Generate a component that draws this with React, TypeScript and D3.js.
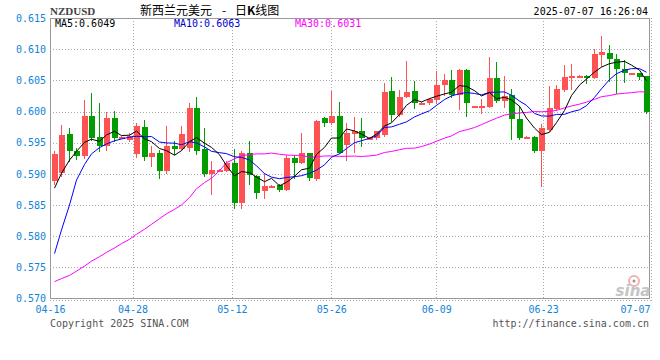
import * as d3 from "d3";
import { useEffect, useRef } from "react";
import * as React from "react";

// daily candles, 04-16 .. 07-07
const opens = [
  0.5889, 0.5901, 0.5964, 0.5937, 0.5928, 0.5993, 0.5959, 0.5944, 0.5989, 0.5958,
  0.5955, 0.5932, 0.5975, 0.5927, 0.5934, 0.5905, 0.5945, 0.5940, 0.5941, 0.6006,
  0.5940, 0.5899, 0.5905, 0.5905, 0.5918, 0.5854, 0.5934, 0.5897, 0.5872, 0.5880,
  0.5882, 0.5874, 0.5926, 0.5918, 0.5934, 0.5892, 0.5990, 0.5981, 0.5993, 0.5946,
  0.5964, 0.5969, 0.5957, 0.5957, 0.5962, 0.6033, 0.5994, 0.6024, 0.6033, 0.6013,
  0.6013, 0.6019, 0.6043, 0.6051, 0.6027, 0.6067, 0.6008, 0.6008, 0.6008, 0.6054,
  0.6017, 0.6027, 0.5988, 0.5958, 0.5959, 0.5937, 0.5970, 0.6004, 0.6034, 0.6056,
  0.6056, 0.6057, 0.6054, 0.6091, 0.6094, 0.6085, 0.6068, 0.6061, 0.6061, 0.6057,
];
const highs = [
  0.5937, 0.5978, 0.5973, 0.5941, 0.6019, 0.6030, 0.6013, 0.6000, 0.6001, 0.5961,
  0.5965, 0.5982, 0.5986, 0.5944, 0.5938, 0.5977, 0.5952, 0.5977, 0.6014, 0.6024,
  0.5973, 0.5920, 0.5907, 0.5920, 0.5940, 0.5936, 0.5953, 0.5898, 0.5902, 0.5882,
  0.5884, 0.5931, 0.5931, 0.5966, 0.5934, 0.5986, 0.5991, 0.6033, 0.6016, 0.5981,
  0.5991, 0.5989, 0.5959, 0.5969, 0.6045, 0.6056, 0.6035, 0.6081, 0.6049, 0.6015,
  0.6021, 0.6065, 0.6060, 0.6067, 0.6068, 0.6068, 0.6009, 0.6020, 0.6088, 0.6080,
  0.6057, 0.6036, 0.6009, 0.5960, 0.5960, 0.5980, 0.6041, 0.6043, 0.6075, 0.6077,
  0.6058, 0.6058, 0.6100, 0.6121, 0.6107, 0.6092, 0.6083, 0.6062, 0.6062, 0.6057,
];
const lows = [
  0.5884, 0.5896, 0.5921, 0.5924, 0.5926, 0.5954, 0.5936, 0.5938, 0.5952, 0.5957,
  0.5952, 0.5927, 0.5922, 0.5913, 0.5893, 0.5902, 0.5932, 0.5938, 0.5937, 0.5932,
  0.5896, 0.5867, 0.5904, 0.5904, 0.5845, 0.5845, 0.5883, 0.5861, 0.5861, 0.5879,
  0.5873, 0.5874, 0.5893, 0.5917, 0.5890, 0.5890, 0.5976, 0.5980, 0.5933, 0.5922,
  0.5935, 0.5945, 0.5956, 0.5956, 0.5961, 0.5985, 0.5992, 0.6023, 0.6005, 0.6012,
  0.6012, 0.6013, 0.6027, 0.6023, 0.6004, 0.5993, 0.6007, 0.5998, 0.6007, 0.6016,
  0.6008, 0.5956, 0.5956, 0.5957, 0.5935, 0.5881, 0.5969, 0.6002, 0.6033, 0.6036,
  0.6055, 0.6045, 0.6053, 0.6073, 0.6049, 0.6029, 0.6047, 0.6060, 0.6052, 0.5998,
];
const closes = [
  0.5932, 0.5962, 0.5937, 0.5928, 0.5993, 0.5958, 0.5944, 0.5989, 0.5957, 0.5959,
  0.5961, 0.5977, 0.5927, 0.5934, 0.5904, 0.5944, 0.5940, 0.5964, 0.6006, 0.5937,
  0.5899, 0.5906, 0.5906, 0.5918, 0.5854, 0.5934, 0.5898, 0.5870, 0.5881, 0.5881,
  0.5874, 0.5926, 0.5918, 0.5934, 0.5893, 0.5985, 0.5982, 0.5993, 0.5934, 0.5966,
  0.5969, 0.5957, 0.5958, 0.5968, 0.6032, 0.5994, 0.6024, 0.6032, 0.6013, 0.6014,
  0.6020, 0.6043, 0.6051, 0.6027, 0.6067, 0.6013, 0.6009, 0.6009, 0.6054, 0.6017,
  0.6025, 0.5988, 0.5958, 0.5959, 0.5937, 0.5973, 0.6006, 0.6036, 0.6056, 0.6057,
  0.6057, 0.6054, 0.6092, 0.6096, 0.6085, 0.6068, 0.6061, 0.6062, 0.6056, 0.5999,
];

// MA values for the first days, whose window reaches before the chart
const ma5Head = [0.5877, 0.5901, 0.5922, 0.5936];
const ma10Head = [0.5772, 0.5810, 0.5850, 0.5890, 0.5915, 0.5932, 0.5942, 0.5948, 0.5953];
const ma30Head = [
  0.5727, 0.5732, 0.5737, 0.5744, 0.5752, 0.5760, 0.5767, 0.5774, 0.5781, 0.5788,
  0.5795, 0.5803, 0.5811, 0.5819, 0.5828, 0.5836, 0.5843, 0.5850, 0.5862, 0.5876,
  0.5886, 0.5893, 0.5905, 0.5918, 0.5924, 0.5929, 0.5931, 0.5932, 0.5932,
];

const dateLabels = ["04-16", "04-28", "05-12", "05-26", "06-09", "06-23", "07-07"];
const dateSlots = [0, 11, 24.25, 37.5, 51.5, 65.75, 80];
const priceTicks = [0.57, 0.575, 0.58, 0.585, 0.59, 0.595, 0.6, 0.605, 0.61, 0.615];

const movingAvg = (n: number, head: number[]) =>
  closes.map((_, i) => (i < n - 1 ? head[i] : d3.mean(closes.slice(i - n + 1, i + 1)) as number));

const KLine: React.FC = () => {
  const ref = useRef<SVGSVGElement>(null);

  useEffect(() => {
    document.body.style.margin = "0";
    const left = 50, right = 649, top = 18, bottom = 298.5;
    const mono = "'DejaVu Sans Mono', monospace";
    const cjk = "'Noto Sans CJK SC', sans-serif";
    const blue = "#1184d8";
    const up = "#ff5353", down = "#009c00";

    const svg = d3.select(ref.current);
    svg.append("rect").attr("width", 660).attr("height", 360).attr("fill", "#fff");

    const x = d3.scaleBand<number>().domain(d3.range(closes.length)).range([left, 650]);
    const slot = d3.scaleLinear().domain([0, 80]).range([left, 650]);
    const y = d3.scaleLinear().domain([0.57, 0.615]).range([bottom, top]);
    const cx = (i: number) => Math.round((x(i) as number) + x.bandwidth() / 2);

    // grid
    const grid = svg.append("g").attr("stroke", "#aaa").attr("stroke-dasharray", "1,2")
      .attr("shape-rendering", "crispEdges");
    priceTicks.slice(1, -1).forEach((p) => {
      const yy = Math.round(y(p)) + 0.5;
      grid.append("line").attr("x1", left).attr("x2", right).attr("y1", yy).attr("y2", yy);
    });
    dateSlots.slice(1, -1).forEach((s) => {
      const xx = Math.round(slot(s)) + 0.5;
      grid.append("line").attr("x1", xx).attr("x2", xx).attr("y1", top).attr("y2", bottom);
    });
    grid.append("line").attr("x1", left).attr("x2", right + 2).attr("y1", bottom + 2).attr("y2", bottom + 2);
    grid.append("line").attr("x1", right + 2).attr("x2", right + 2).attr("y1", top).attr("y2", bottom + 2);

    // frame
    svg.append("rect")
      .attr("x", left + 0.5).attr("y", top + 0.5)
      .attr("width", right - left).attr("height", bottom - top - 0.5)
      .attr("fill", "none").attr("stroke", "#999").attr("stroke-width", 1.2)
      .attr("shape-rendering", "crispEdges");

    // sina mark
    const logo = svg.append("g");
    logo.append("circle").attr("cx", 634).attr("cy", 281).attr("r", 5)
      .attr("fill", "none").attr("stroke", "#f2b0b0").attr("stroke-width", 2);
    logo.append("circle").attr("cx", 634).attr("cy", 281).attr("r", 1.5).attr("fill", "#999");
    logo.append("text").attr("x", 633).attr("y", 296).attr("text-anchor", "middle")
      .attr("font-family", "'DejaVu Sans', sans-serif").attr("font-size", 15)
      .attr("font-style", "italic").attr("font-weight", "bold").attr("fill", "#c4c4c4")
      .text("sina");

    // candles
    const candles = svg.append("g").attr("shape-rendering", "crispEdges");
    closes.forEach((c, i) => {
      const o = opens[i];
      const col = c >= o ? up : down;
      const xx = cx(i);
      candles.append("line")
        .attr("x1", xx + 0.5).attr("x2", xx + 0.5)
        .attr("y1", Math.round(y(highs[i]))).attr("y2", Math.round(y(lows[i])) + 1)
        .attr("stroke", col);
      const y0 = Math.round(y(Math.max(o, c)));
      const y1 = Math.round(y(Math.min(o, c)));
      candles.append("rect")
        .attr("x", xx - 2).attr("y", y0)
        .attr("width", 6).attr("height", Math.max(2, y1 - y0))
        .attr("fill", col);
    });

    // moving averages
    const line = d3.line<number>().x((_, i) => cx(i) + 0.5).y((v) => y(v));
    [
      { v: movingAvg(30, ma30Head), col: "#ff00ff" },
      { v: movingAvg(10, ma10Head), col: "#0000ff" },
      { v: movingAvg(5, ma5Head), col: "#000" },
    ].forEach((s) => {
      svg.append("path").datum(s.v).attr("d", line)
        .attr("fill", "none").attr("stroke", s.col).attr("stroke-width", 1);
    });

    // y axis labels
    const ya = svg.append("g").attr("transform", `translate(${left},0)`)
      .call(d3.axisLeft(y).tickValues(priceTicks).tickFormat(d3.format(".3f")).tickSize(0).tickPadding(4));
    ya.select(".domain").remove();
    ya.selectAll("text").attr("font-family", mono).attr("font-size", 10).attr("fill", blue);

    // x axis labels
    const xa = svg.append("g").attr("transform", `translate(0,${bottom})`)
      .call(d3.axisBottom(slot).tickValues(dateSlots)
        .tickFormat((_, i) => dateLabels[i]).tickSize(0).tickPadding(7));
    xa.select(".domain").remove();
    xa.selectAll("text").attr("font-family", mono).attr("font-size", 10).attr("fill", blue)
      .attr("text-anchor", (_, i) => (i === dateLabels.length - 1 ? "end" : "middle"));

    // header
    svg.append("text").attr("x", 50).attr("y", 15)
      .attr("font-family", "'Liberation Serif', serif").attr("font-size", 11)
      .attr("font-weight", "bold").attr("fill", "#444").text("NZDUSD");
    svg.append("text").attr("x", 140).attr("y", 15)
      .attr("font-family", cjk).attr("font-size", 12).attr("fill", "#000").text("新西兰元美元");
    svg.append("text").attr("x", 224).attr("y", 15).attr("text-anchor", "middle")
      .attr("font-family", cjk).attr("font-size", 12).attr("fill", "#000").text("-");
    const sub = svg.append("text").attr("x", 235).attr("y", 15)
      .attr("font-family", cjk).attr("font-size", 12).attr("fill", "#000");
    sub.append("tspan").text("日");
    sub.append("tspan").attr("font-weight", "bold").text("K");
    sub.append("tspan").text("线图");
    svg.append("text").attr("x", 648).attr("y", 15).attr("text-anchor", "end")
      .attr("font-family", mono).attr("font-size", 10).attr("fill", "#000")
      .text("2025-07-07 16:26:04");

    const last = closes.length - 1;
    [
      { label: "MA5", v: movingAvg(5, ma5Head)[last], col: "#000", xx: 55 },
      { label: "MA10", v: movingAvg(10, ma10Head)[last], col: "#0000cc", xx: 174 },
      { label: "MA30", v: movingAvg(30, ma30Head)[last], col: "#ff00ff", xx: 295 },
    ].forEach((m) => {
      svg.append("text").attr("x", m.xx).attr("y", 27)
        .attr("font-family", mono).attr("font-size", 10).attr("fill", m.col)
        .text(`${m.label}:${m.v.toFixed(4)}`);
    });

    // footer
    svg.append("text").attr("x", 50).attr("y", 327)
      .attr("font-family", mono).attr("font-size", 10).attr("fill", "#555")
      .text("Copyright 2025 SINA.COM");
    svg.append("text").attr("x", 649).attr("y", 327).attr("text-anchor", "end")
      .attr("font-family", mono).attr("font-size", 10).attr("fill", "#555")
      .text("http://finance.sina.com.cn");

    return () => {
      svg.selectAll("*").remove();
    };
  }, []);

  return <svg ref={ref} width={660} height={360} style={{ display: "block" }} />;
};

export default function App() {
  return <KLine />;
}
